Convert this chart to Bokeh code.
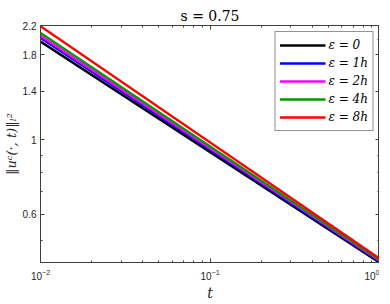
from bokeh.plotting import figure
from bokeh.models import (FixedTicker, LogAxis, CustomJSTickFormatter,
                          Range1d, Legend, Title)
from bokeh.embed import file_html
from bokeh.resources import INLINE

# ---- data ----
t = [0.01, 1.0]
eps_0 = [1.97, 0.430]
eps_1h = [2.02, 0.433]
eps_2h = [2.05, 0.436]
eps_4h = [2.09, 0.438]
eps_8h = [2.19, 0.442]

series_labels = ["ε = 0", "ε = 1h", "ε = 2h", "ε = 4h", "ε = 8h"]
series_values = [eps_0, eps_1h, eps_2h, eps_4h, eps_8h]
series_colors = ["#000000", "#0000FF", "#FF00FF", "#009900", "#FF0000"]

x_major = [0.01, 0.1, 1.0]
x_minor = [0.02, 0.03, 0.04, 0.05, 0.06, 0.07, 0.08, 0.09,
           0.2, 0.3, 0.4, 0.5, 0.6, 0.7, 0.8, 0.9]
y_major = [0.6, 1.0, 1.4, 1.8, 2.2]
y_minor = [0.5, 0.7, 0.8, 0.9, 2.0]

AX = "#404040"
TXT = "#262626"

p = figure(frame_width=339, frame_height=237, x_axis_type="log", y_axis_type="log",
           x_range=Range1d(0.01, 1.0), y_range=Range1d(0.43, 2.2),
           output_backend="svg", toolbar_location=None,
           min_border_left=0, min_border_right=0,
           min_border_top=25, min_border_bottom=0)
p.background_fill_color = "white"
p.border_fill_color = "white"
p.outline_line_color = AX
p.xgrid.visible = False
p.ygrid.visible = False

renderers = []
for lab, vals, col in zip(series_labels, series_values, series_colors):
    r = p.line(t, vals, line_color=col, line_width=2.5)
    renderers.append((lab, [r]))

xt = FixedTicker(ticks=x_major, minor_ticks=x_minor)
yt = FixedTicker(ticks=y_major, minor_ticks=y_minor)


def style_axis(ax):
    ax.axis_line_color = AX
    ax.major_tick_line_color = AX
    ax.minor_tick_line_color = AX
    ax.major_tick_in = 4
    ax.major_tick_out = 0
    ax.minor_tick_in = 2
    ax.minor_tick_out = 0
    ax.major_label_text_color = TXT
    ax.major_label_text_font = "Liberation Sans"
    ax.major_label_text_font_size = "10px"


xa = p.xaxis[0]
xa.ticker = xt
style_axis(xa)
xa.major_label_standoff = 6
xa.axis_label = "t"
xa.axis_label_text_font = "DejaVu Serif"
xa.axis_label_text_font_style = "italic"
xa.axis_label_text_font_size = "14px"
xa.axis_label_text_color = TXT
xa.axis_label_standoff = 2

ya = p.yaxis[0]
ya.ticker = yt
ya.formatter = CustomJSTickFormatter(code="return String(Number(tick.toFixed(2)));")
style_axis(ya)
ya.major_label_standoff = 4
ya.axis_label = "‖uᶜ(·, t)‖ₗ²"
ya.axis_label_text_font = "DejaVu Serif"
ya.axis_label_text_font_style = "italic"
ya.axis_label_text_font_size = "13px"
ya.axis_label_text_color = TXT
ya.axis_label_standoff = 1

top = LogAxis(ticker=FixedTicker(ticks=x_major, minor_ticks=x_minor))
style_axis(top)
top.major_label_text_font_size = "1px"
top.major_label_text_alpha = 0
top.major_label_standoff = 0
p.add_layout(top, "above")

right = LogAxis(ticker=FixedTicker(ticks=y_major, minor_ticks=y_minor))
style_axis(right)
right.major_label_text_font_size = "1px"
right.major_label_text_alpha = 0
right.major_label_standoff = 0
p.add_layout(right, "right")

title = Title(text="s = 0.75", align="center", text_font="DejaVu Serif",
              text_font_style="normal", text_font_size="14px",
              text_color="black", standoff=4)
p.add_layout(title, "above")

legend = Legend(items=renderers, location="top_right")
legend.border_line_color = "#262626"
legend.border_line_width = 1
legend.background_fill_color = "white"
legend.background_fill_alpha = 1
legend.label_text_font = "DejaVu Serif"
legend.label_text_font_style = "italic"
legend.label_text_font_size = "12px"
legend.label_text_color = "black"
legend.glyph_width = 46
legend.glyph_height = 18
legend.label_height = 18
legend.label_standoff = 3
legend.spacing = 0
legend.padding = 4
legend.margin = 6
p.add_layout(legend, "center")

open("out.html", "w").write(file_html(p, INLINE))
